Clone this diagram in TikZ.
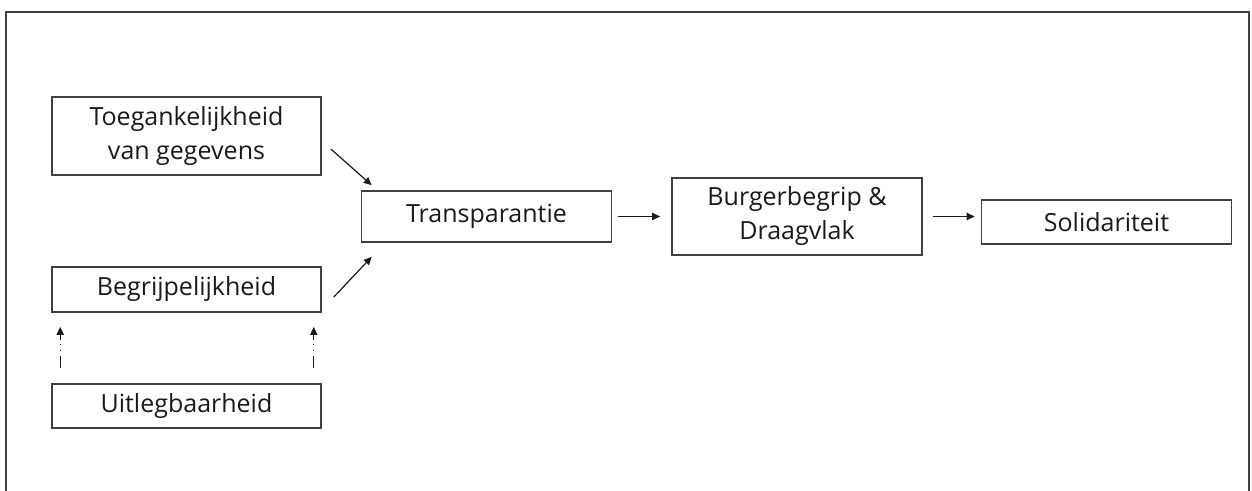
\documentclass[tikz,border=0pt]{standalone}
\usepackage{fontspec}
\setmainfont{Open Sans}
\usetikzlibrary{arrows.meta}

\begin{document}
\begin{tikzpicture}[
      x=0.5pt,y=-0.5pt,
      font=\fontsize{12.5}{17}\selectfont,
      box/.style ={draw=black!75,line width=0.8pt,text=black!90,inner sep=0pt,minimum width=125pt,align=center},
      arr/.style ={-{Triangle[length=4pt,width=3.6pt]},line width=0.6pt,draw=black!90},
      dd/.style  ={arr,dash pattern=on 6pt off 2.5pt on 0.6pt off 2.5pt on 0.6pt off 2pt}]
      \useasboundingbox (0,0) rectangle (1252,491);
      % outer frame, its bottom edge lies below the page
      \draw[draw=black!75,line width=1pt] (6,520) -- (6,12) -- (1249,12) -- (1249,520);
      % left column
      \node[box,minimum width=134.5pt,minimum height=39pt] (toeg)   at (186.5,136)   {Toegankelijkheid\\van gegevens};
      \node[box,minimum width=134.5pt,minimum height=22.5pt] (begr) at (186.5,289.5) {Begrijpelijkheid};
      \node[box,minimum width=134.5pt,minimum height=22pt] (uitleg) at (186.5,406)   {Uitlegbaarheid};
      % main chain
      \node[box,minimum height=25.5pt] (trans)  at (486.5,216.5) {Transparantie};
      \node[box,minimum height=38.5pt] (burger) at (797,216.5)   {Burgerbegrip \&\\Draagvlak};
      \node[box,minimum height=22pt]   (solid)  at (1106.5,222)  {Solidariteit};
      % arrows into Transparantie
      \draw[arr] ([shift={(9,13)}]toeg.east) -- ([shift={(11,-5)}]trans.north west);
      \draw[arr] ([shift={(12,7.5)}]begr.east) -- ([shift={(11,14)}]trans.south west);
      % dash-dot arrows
      \foreach \a/\dx in {west/9,east/-8}
        \draw[dd] ([shift={(\dx,-15)}]uitleg.north \a) -- ([shift={(\dx,14)}]begr.south \a);
      % chain arrows
      \draw[arr,shorten <=3pt,shorten >=5.5pt] (trans.east) -- (trans.east -| burger.west);
      \draw[arr,shorten <=5pt,shorten >=3pt] (burger.east) -- (burger.east -| solid.west);
  \end{tikzpicture}
\end{document}
